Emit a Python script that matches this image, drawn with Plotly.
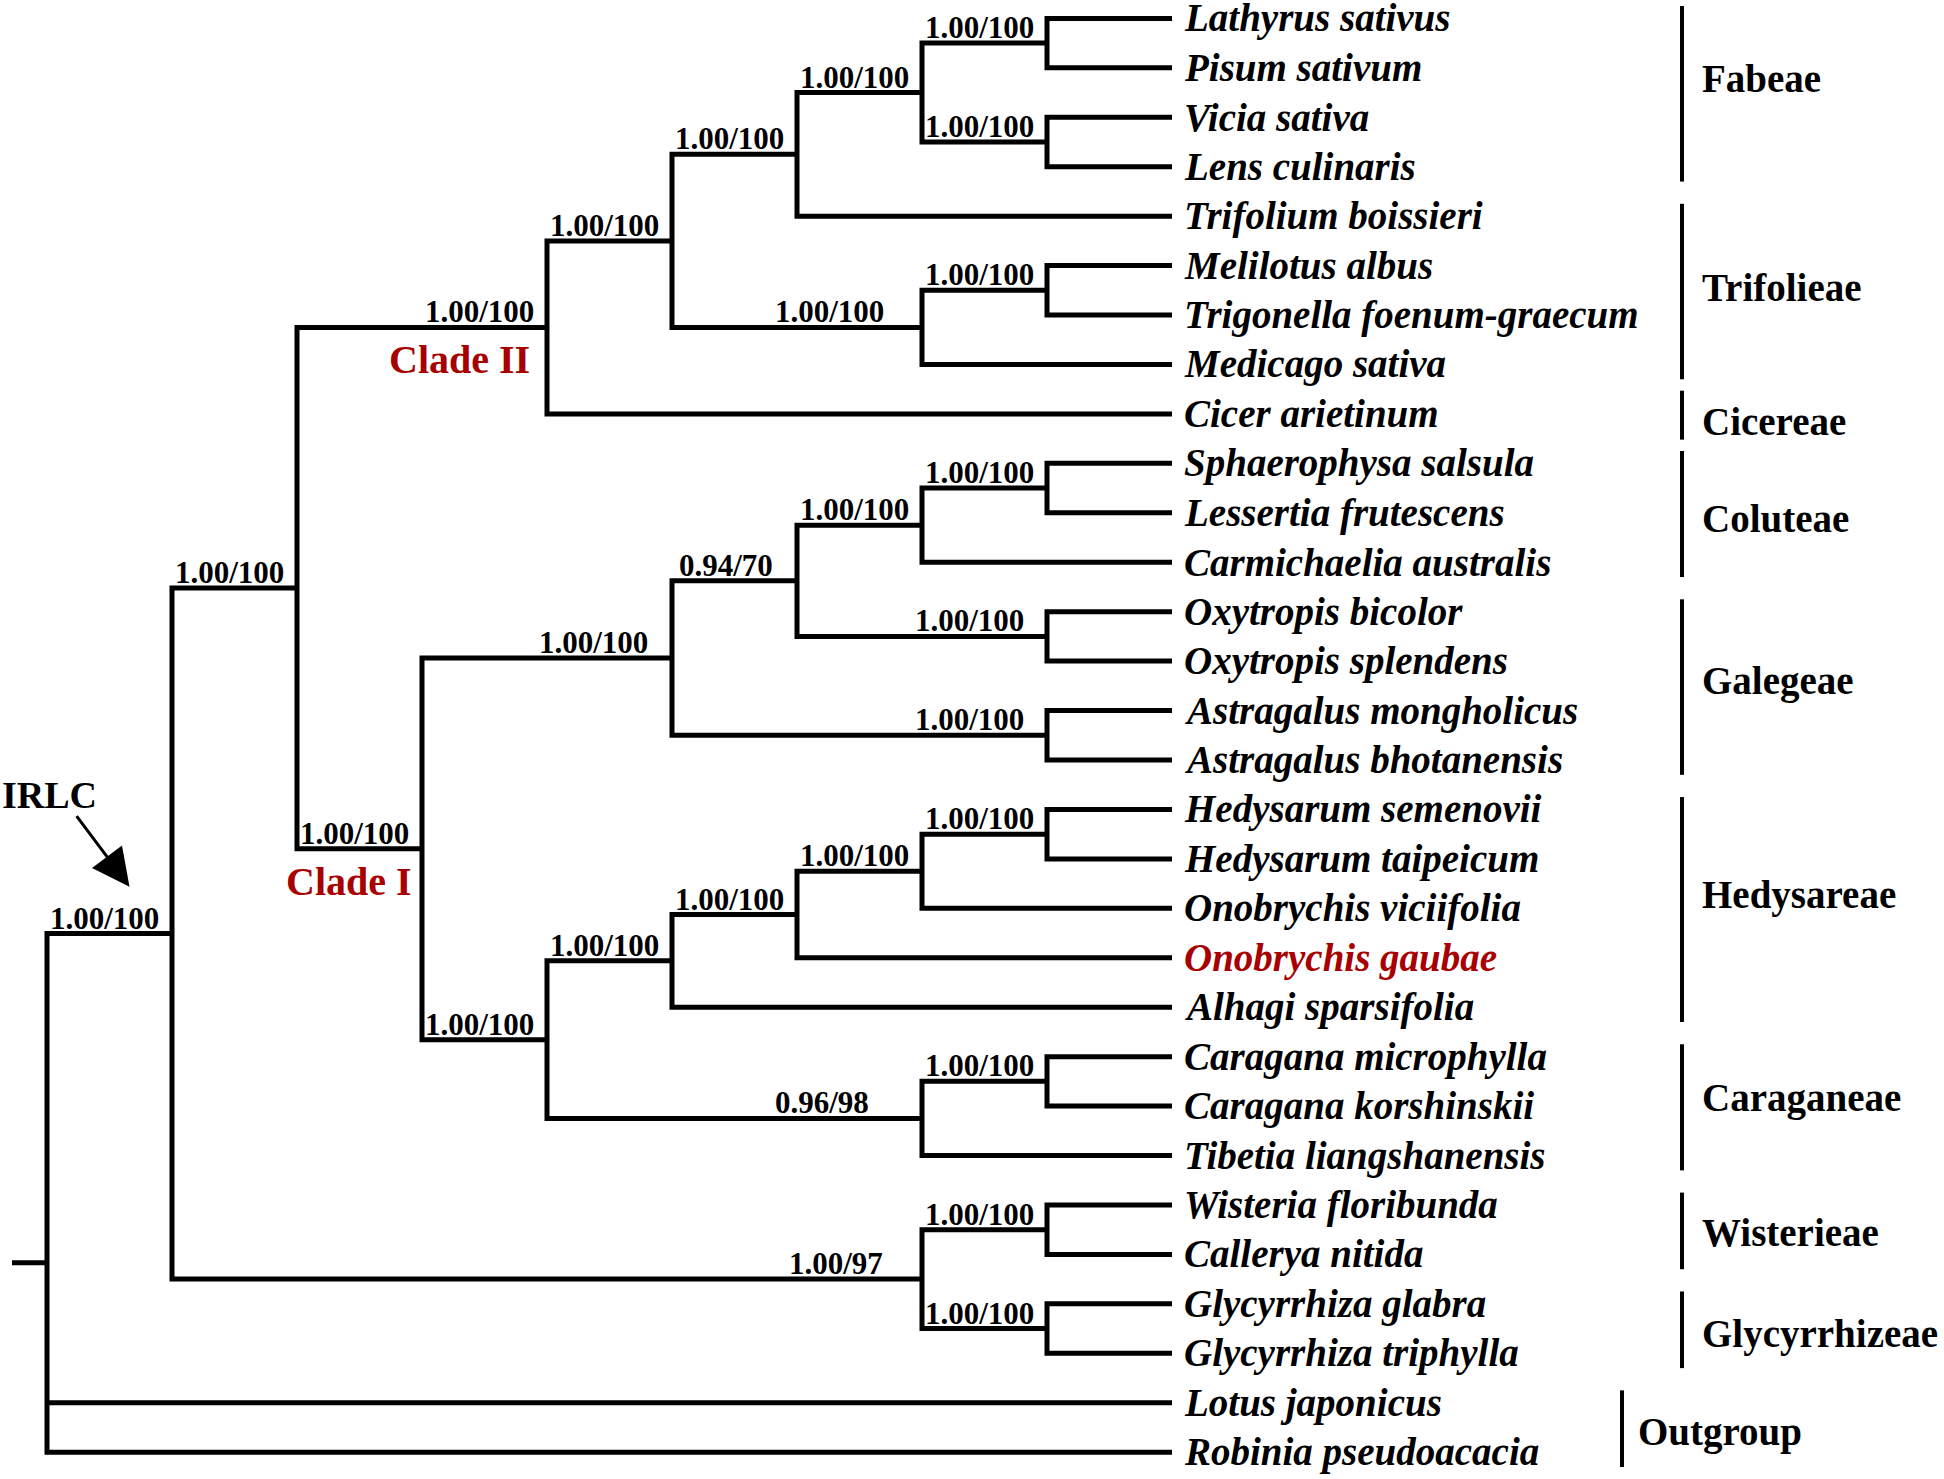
import plotly.graph_objects as go

# ---------------- data ----------------
# Cladogram (Newick); branch lengths are rank steps of the drawn tree,
# internal labels are BI posterior / ML bootstrap support.
newick = ("((((((((Lathyrus sativus:1,Pisum sativum:1)1.00/100:1,"
          "(Vicia sativa:1,Lens culinaris:1)1.00/100:1)1.00/100:1,"
          "Trifolium boissieri:3)1.00/100:1,"
          "((Melilotus albus:1,Trigonella foenum-graecum:1)1.00/100:1,"
          "Medicago sativa:2)1.00/100:2)1.00/100:1,"
          "Cicer arietinum:5)1.00/100:2,"
          "(((((Sphaerophysa salsula:1,Lessertia frutescens:1)1.00/100:1,"
          "Carmichaelia australis:2)1.00/100:1,"
          "(Oxytropis bicolor:1,Oxytropis splendens:1)1.00/100:2)0.94/70:1,"
          "(Astragalus mongholicus:1,Astragalus bhotanensis:1)1.00/100:3)1.00/100:2,"
          "(((((Hedysarum semenovii:1,Hedysarum taipeicum:1)1.00/100:1,"
          "Onobrychis viciifolia:2)1.00/100:1,"
          "Onobrychis gaubae:3)1.00/100:1,"
          "Alhagi sparsifolia:4)1.00/100:1,"
          "((Caragana microphylla:1,Caragana korshinskii:1)1.00/100:1,"
          "Tibetia liangshanensis:2)0.96/98:3)1.00/100:1)1.00/100:1)1.00/100:1,"
          "((Wisteria floribunda:1,Callerya nitida:1)1.00/100:1,"
          "(Glycyrrhiza glabra:1,Glycyrrhiza triphylla:1)1.00/100:1)1.00/97:6)1.00/100:1,"
          "Lotus japonicus:9,Robinia pseudoacacia:9);")

highlight_taxon = "Onobrychis gaubae"

tribes = ["Fabeae", "Trifolieae", "Cicereae", "Coluteae", "Galegeae",
          "Hedysareae", "Caraganeae", "Wisterieae", "Glycyrrhizeae", "Outgroup"]
tribe_first = ["Lathyrus sativus", "Trifolium boissieri", "Cicer arietinum",
               "Sphaerophysa salsula", "Oxytropis bicolor", "Hedysarum semenovii",
               "Caragana microphylla", "Wisteria floribunda", "Glycyrrhiza glabra",
               "Lotus japonicus"]
tribe_last = ["Lens culinaris", "Medicago sativa", "Cicer arietinum",
              "Carmichaelia australis", "Astragalus bhotanensis", "Alhagi sparsifolia",
              "Tibetia liangshanensis", "Callerya nitida", "Glycyrrhiza triphylla",
              "Robinia pseudoacacia"]

# clade names attached to the node spanning the given first / last leaf
clade_names = ["Clade II", "Clade I"]
clade_span = [("Lathyrus sativus", "Cicer arietinum"),
              ("Sphaerophysa salsula", "Tibetia liangshanensis")]
irlc_span = ("Lathyrus sativus", "Glycyrrhiza triphylla")

# ---------------- parse tree ----------------
def parse(s):
    pos = 0

    def node():
        nonlocal pos
        children = []
        if s[pos] == "(":
            pos += 1
            while True:
                children.append(node())
                if s[pos] == ",":
                    pos += 1
                    continue
                if s[pos] == ")":
                    pos += 1
                    break
        start = pos
        while s[pos] not in ":,);":
            pos += 1
        label = s[start:pos].strip()
        bl = 0.0
        if s[pos] == ":":
            pos += 1
            start = pos
            while s[pos] not in ",);":
                pos += 1
            bl = float(s[start:pos])
        return {"label": label, "bl": bl, "children": children}

    return node()


root = parse(newick)
leaves = []


def layout(n, x0):
    n["x"] = x0 + n["bl"]
    if not n["children"]:
        n["y"] = len(leaves)
        leaves.append(n)
        n["span"] = (n["label"], n["label"])
    else:
        for c in n["children"]:
            layout(c, n["x"])
        n["y"] = sum(c["y"] for c in n["children"]) / len(n["children"])
        n["span"] = (n["children"][0]["span"][0], n["children"][-1]["span"][1])


layout(root, 0.0)
internal = []


def collect(n, parent):
    n["parent"] = parent
    if n["children"]:
        internal.append(n)
        for c in n["children"]:
            collect(c, n)


collect(root, None)
leaf_y = {l["label"]: l["y"] for l in leaves}

# ---------------- style ----------------
W, H = 1944, 1479
PX_LEVEL, X0_PX = 125.0, 47.0
PX_LEAF, Y0_PX = 49.44, 18.4
RED = "#A80000"
SERIF = "Liberation Serif, Times New Roman, serif"

# extra left offset (px) of some support labels on long branches
label_extra_gap = {
    ("Melilotus albus", "Medicago sativa"): 25,
    ("Caragana microphylla", "Tibetia liangshanensis"): 40,
    ("Wisteria floribunda", "Glycyrrhiza triphylla"): 26,
    ("Sphaerophysa salsula", "Astragalus bhotanensis"): 11,
    ("Oxytropis bicolor", "Oxytropis splendens"): 10,
    ("Astragalus mongholicus", "Astragalus bhotanensis"): 10,
    ("Sphaerophysa salsula", "Oxytropis splendens"): 11,
}
# vertical nudges (px, up positive) of tribe names
tribe_nudge = {"Fabeae": 15, "Trifolieae": 4, "Cicereae": -7, "Coluteae": -5,
               "Galegeae": 6, "Hedysareae": 14, "Caraganeae": 9, "Wisterieae": -2,
               "Glycyrrhizeae": -4, "Outgroup": -4}

xs, ys = [], []
for n in internal:
    ch = n["children"]
    a, b = ch[0], ch[-1]
    xs += [a["x"], n["x"], n["x"], b["x"], None]
    ys += [a["y"], a["y"], b["y"], b["y"], None]
    for c in ch[1:-1]:
        xs += [n["x"], c["x"], None]
        ys += [c["y"], c["y"], None]
# root stub
xs += [root["x"] - 0.28, root["x"], None]
ys += [root["y"], root["y"], None]

fig = go.Figure()
fig.add_trace(go.Scatter(x=xs, y=ys, mode="lines",
                         line=dict(color="black", width=5),
                         hoverinfo="skip", showlegend=False))

ann = []
tip_x = max(l["x"] for l in leaves)

# leaf labels
for l in leaves:
    ann.append(dict(x=l["x"], y=l["y"], xanchor="left", yanchor="middle",
                    xshift=10, yshift=0, text=l["label"], showarrow=False,
                    font=dict(family=SERIF, size=39, weight="bold", style="italic",
                              color=RED if l["label"] == highlight_taxon else "black")))

# support labels
for n in internal:
    if n["label"]:
        ann.append(dict(x=n["x"], y=n["y"], xanchor="right", yanchor="bottom",
                        xshift=-11 - label_extra_gap.get(n["span"], 0), yshift=-4,
                        text=n["label"], showarrow=False,
                        font=dict(family=SERIF, size=31, weight="bold", color="black")))

# clade names
for name, span in zip(clade_names, clade_span):
    n = next(k for k in internal if k["span"] == span)
    ann.append(dict(x=n["x"], y=n["y"], xanchor="right", yanchor="top",
                    xshift=-15 if name == "Clade II" else -8, yshift=-8, text=name,
                    showarrow=False,
                    font=dict(family=SERIF, size=40, weight="bold", color=RED)))

# IRLC arrow
irlc = next(k for k in internal if k["span"] == irlc_span)
ann.append(dict(x=(irlc["parent"]["x"] + irlc["x"]) / 2 + 0.16, y=irlc["y"] - 0.95,
                ax=-54, ay=-72, text="", showarrow=True, arrowhead=2,
                arrowsize=2.5, arrowwidth=3, arrowcolor="black"))
ann.append(dict(x=irlc["parent"]["x"], y=irlc["y"] - 2.86, xanchor="center",
                yanchor="middle", text="IRLC", showarrow=False, xshift=2, yshift=-3,
                font=dict(family=SERIF, size=38, weight="bold", color="black")))

# tribe bars and names
bx, by = [], []
for name, f, la in zip(tribes, tribe_first, tribe_last):
    y1, y2 = leaf_y[f], leaf_y[la]
    pad = 0.25 if y2 > y1 else 0.47
    bar_x = tip_x + (3.6 if name == "Outgroup" else 4.08)
    bx += [bar_x, bar_x, None]
    by += [y1 - pad, y2 + pad + 0.05, None]
    ann.append(dict(x=bar_x, y=(y1 + y2) / 2, xanchor="left", yanchor="middle",
                    xshift=18 if name != "Outgroup" else 14,
                    yshift=-1 + tribe_nudge.get(name, 0), text=name, showarrow=False,
                    font=dict(family=SERIF, size=39, weight="bold", color="black")))
fig.add_trace(go.Scatter(x=bx, y=by, mode="lines", line=dict(color="black", width=4),
                         hoverinfo="skip", showlegend=False))

fig.update_layout(
    width=W, height=H, margin=dict(l=0, r=0, t=0, b=0, pad=0),
    paper_bgcolor="white", plot_bgcolor="white", showlegend=False,
    annotations=ann,
    xaxis=dict(range=[-X0_PX / PX_LEVEL, (W - X0_PX) / PX_LEVEL], visible=False,
               fixedrange=True),
    yaxis=dict(range=[(H - Y0_PX) / PX_LEAF, -Y0_PX / PX_LEAF], visible=False,
               fixedrange=True),
)

fig.write_html("out.html", config={"displayModeBar": False},
               post_script="document.body.style.margin='0';document.body.style.overflow='hidden';")
